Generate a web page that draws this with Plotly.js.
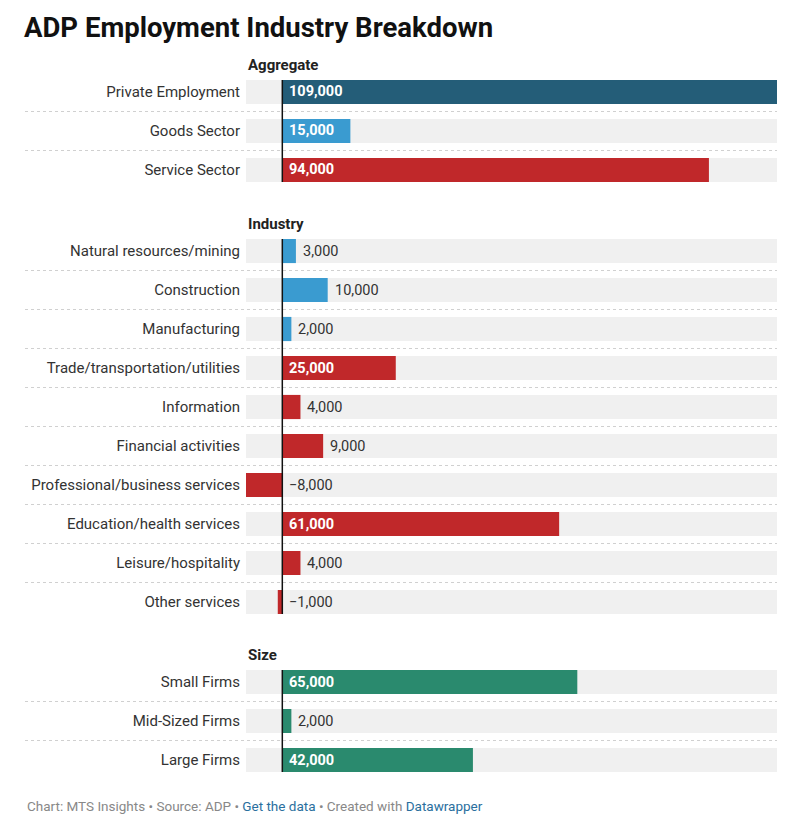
<!DOCTYPE html>
<html>
<head>
<meta charset="utf-8">
<script src="https://cdn.plot.ly/plotly-3.0.1.min.js"></script>
<style>html,body{margin:0;padding:0;background:#fff;}#chart{width:800px;height:826px;}</style>
</head>
<body>
<div id="chart"></div>
<script>
// ---- data ----
const aggCats = ['Private Employment', 'Goods Sector', 'Service Sector'];
const aggVals = [109000, 15000, 94000];
const aggColors = ['#245d78', '#3a9bd0', '#c0282a'];

const indCats = ['Natural resources/mining', 'Construction', 'Manufacturing',
  'Trade/transportation/utilities', 'Information', 'Financial activities',
  'Professional/business services', 'Education/health services',
  'Leisure/hospitality', 'Other services'];
const indVals = [3000, 10000, 2000, 25000, 4000, 9000, -8000, 61000, 4000, -1000];
const indColors = ['#3a9bd0', '#3a9bd0', '#3a9bd0', '#c0282a', '#c0282a', '#c0282a',
  '#c0282a', '#c0282a', '#c0282a', '#c0282a'];

const sizeCats = ['Small Firms', 'Mid-Sized Firms', 'Large Firms'];
const sizeVals = [65000, 2000, 42000];
const sizeColors = ['#2a8a6e', '#2a8a6e', '#2a8a6e'];

const sectionTitles = ['Aggregate', 'Industry', 'Size'];

// ---- layout helpers ----
const W = 800, H = 826;
const sections = [
  {cats: aggCats, vals: aggVals, colors: aggColors, ax: 'y', top: 72.5, head: 65},
  {cats: indCats, vals: indVals, colors: indColors, ax: 'y2', top: 231.5, head: 224},
  {cats: sizeCats, vals: sizeVals, colors: sizeColors, ax: 'y3', top: 662.5, head: 655}
];
const rowH = 39;
const allVals = aggVals.concat(indVals, sizeVals);
const vMin = Math.min(...allVals), vMax = Math.max(...allVals);
const fmt = v => (v < 0 ? '\u2212' : '') + Math.abs(v).toLocaleString('en-US');
const FONT = 'Roboto, "Open Sans", sans-serif';
const barW = 0.62;

const traces = [];
const shapes = [];
const annotations = [];
const layout = {
  width: W, height: H,
  margin: {l: 246, r: 23, t: 0, b: 0},
  paper_bgcolor: '#ffffff', plot_bgcolor: 'rgba(0,0,0,0)',
  barmode: 'overlay',
  showlegend: false,
  hovermode: false,
  font: {family: FONT, size: 15, color: '#333333'},
  title: {
    text: 'ADP Employment Industry Breakdown',
    x: 24 / W, xanchor: 'left', xref: 'container',
    y: 1 - 27 / H, yanchor: 'middle', yref: 'container',
    font: {family: FONT, size: 27.5, color: '#111111', weight: 700}
  },
  xaxis: {range: [vMin, vMax], visible: false, fixedrange: true, anchor: 'y'}
};

sections.forEach((s, i) => {
  const n = s.cats.length;
  const bottom = s.top + n * rowH;
  const axName = i === 0 ? 'yaxis' : 'yaxis' + (i + 1);
  layout[axName] = {
    domain: [1 - bottom / H, 1 - s.top / H],
    type: 'category',
    categoryorder: 'array', categoryarray: s.cats,
    autorange: 'reversed',
    anchor: 'x',
    showgrid: false, zeroline: false, showline: false,
    ticks: '', ticklabelstandoff: 5,
    tickfont: {family: FONT, size: 15, color: '#333333'},
    fixedrange: true
  };
  // background bars
  traces.push({
    type: 'bar', orientation: 'h', yaxis: s.ax, xaxis: 'x',
    y: s.cats, x: s.cats.map(() => vMax - vMin), base: s.cats.map(() => vMin),
    width: barW, marker: {color: '#f0f0f0'}, hoverinfo: 'skip'
  });
  // value bars
  traces.push({
    type: 'bar', orientation: 'h', yaxis: s.ax, xaxis: 'x',
    y: s.cats, x: s.vals, width: barW,
    marker: {color: s.colors}, hoverinfo: 'skip'
  });
  // zero line
  shapes.push({
    type: 'line', xref: 'x', yref: s.ax, x0: 0, x1: 0,
    y0: -barW / 2, y1: n - 1 + barW / 2,
    line: {color: '#111111', width: 1.5}, layer: 'above'
  });
  // dotted separators
  for (let k = 0; k < n - 1; k++) {
    shapes.push({
      type: 'line', xref: 'paper', yref: s.ax,
      x0: (25 - 246) / 531, x1: 1, y0: k + 0.5, y1: k + 0.5,
      line: {color: '#d0d0d0', width: 1, dash: 'dot'}, layer: 'below'
    });
  }
  // section header
  annotations.push({
    xref: 'paper', yref: 'paper', x: 0, xanchor: 'left',
    y: 1 - s.head / H, yanchor: 'middle', showarrow: false,
    text: sectionTitles[i],
    font: {family: FONT, size: 15, color: '#222222', weight: 700}
  });
  // value labels
  s.vals.forEach((v, k) => {
    const inside = v >= 15000;
    annotations.push({
      xref: 'x', yref: s.ax, x: inside ? 0 : Math.max(v, 0), y: s.cats[k],
      xanchor: 'left', yanchor: 'middle', xshift: 5, showarrow: false,
      text: fmt(v),
      font: inside ? {family: FONT, size: 14.5, color: '#ffffff', weight: 700}
                   : {family: FONT, size: 14.5, color: '#333333'}
    });
  });
});

// footer
annotations.push({
  xref: 'paper', yref: 'paper', x: (25 - 246) / 531, xanchor: 'left',
  y: 1 - 806 / H, yanchor: 'middle', showarrow: false,
  text: 'Chart: MTS Insights \u2022 Source: ADP \u2022 <span style="color:#2a6f9e">Get the data</span> \u2022 Created with <span style="color:#2a6f9e">Datawrapper</span>',
  font: {family: FONT, size: 13.5, color: '#888888'}
});

layout.shapes = shapes;
layout.annotations = annotations;

Plotly.newPlot('chart', traces, layout, {displayModeBar: false, staticPlot: true});
</script>
</body>
</html>
